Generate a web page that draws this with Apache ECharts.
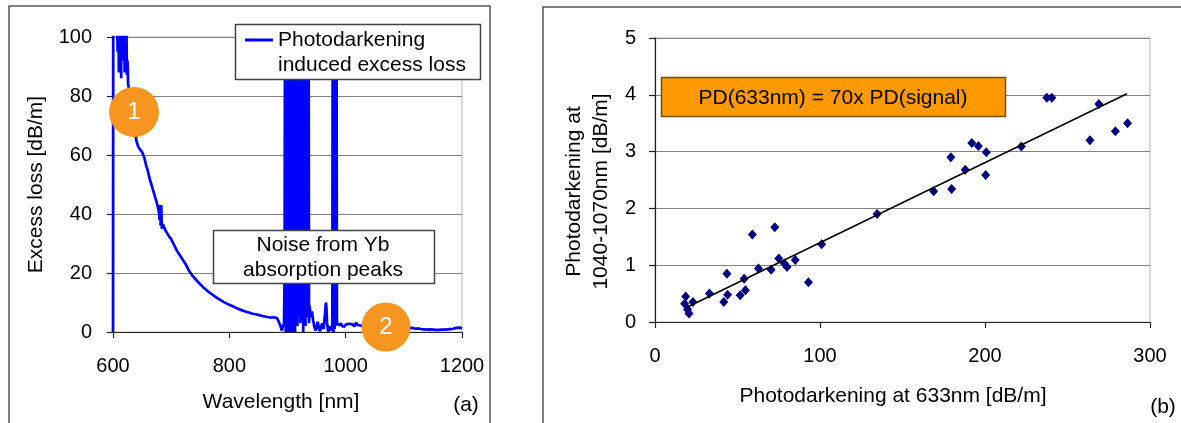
<!DOCTYPE html>
<html><head><meta charset="utf-8">
<script src="https://cdn.jsdelivr.net/npm/echarts@6/dist/echarts.min.js"></script>
<style>html,body{margin:0;padding:0;background:#fff}#c{width:1181px;height:423px}</style>
</head><body><div id="c"></div>
<script>
// ---- Panel (a): photodarkening induced excess loss spectrum ----
const wavelength = [600,600.5,605,608,609,610,611,612,613,614,615,616,617,618,619,620,621,622,623,624,625,626,627,628,630,634,638,
 640,643,646,650,654,657,660,663,666,669,672,675,677,679,680,681,682,683,684,686,688,690,693,696,
 700,705,710,715,720,725,730,735,740,745,750,755,760,765,770,775,780,785,790,795,800,805,810,815,820,825,830,835,840,845,850,855,860,865,870,873,876,879,882,885,888,890,892,894,
 895,896,897,898,899,900,901,902,903,904,905,906,907,908,909,910,911,912,913,914,915,916,917,918,919,920,921,922,923,
 924,925,926,927,928,929,930,931,932,933,934,935,936,937,938,939,940,942,944,946,948,950,952,954,956,958,960,962,964,966,967,968,970,972,974,976,977,
 978,979,980,981,982,983,984,985,986,988,990,992,994,996,998,1000,1003,1006,1009,1012,1015,1018,1020,1025,
 1030,1040,1050,1060,1070,1080,1090,1100,1110,1115,1120,1125,1130,1135,1140,1145,1150,1155,1160,1165,1170,1175,1180,1185,1190,1193,1196,1200];
const excessLoss = [0,150,130,95,120,88,130,100,140,86,125,92,135,97,120,88,110,90,104,87,92,84,83,82,79,74,69,
 65,63,62,61,59,56.5,54.5,52,50,48,46,44,42.5,40.5,38,43,36,43,35,36.5,35.5,34.5,33.5,32.5,
 31.5,29.5,27.5,26,24.5,23,21,19.5,18.3,17.2,16.2,15.2,14.3,13.5,12.8,12.1,11.4,10.8,10.2,9.7,9.2,8.8,8.3,7.9,7.5,7.1,6.8,6.5,6.2,6.0,5.8,5.5,5.3,5.1,4.9,5.4,5.0,4.4,4.7,3.5,2.0,0.5,0.2,3,
 20,150,0,150,2,150,0,150,5,150,0,150,3,150,0,150,6,150,0,150,8,150,2,150,10,150,12,3,13,
 150,4,150,0,150,6,150,2,150,8,150,5,150,3,9,8.5,5,7,4,2,0.5,1.5,3.5,1,0.3,2,3,1,5,10,8,3,0,2,0.5,0,2,
 150,0,150,1,150,2,150,3,2.5,3.5,2.2,3.0,2.0,2.6,1.8,2.5,2.0,2.8,2.2,2.6,1.9,3.2,2.4,2.2,
 2.0,1.8,1.6,1.5,1.4,1.3,1.2,1.2,1.3,1.4,1.1,1.2,1.0,0.9,0.8,0.9,0.8,0.7,0.7,0.8,0.8,0.9,1.0,1.1,1.4,1.0,1.5,1.2];

// ---- Panel (b): PD at 633 nm vs PD at 1040-1070 nm ----
const pd633 = [18,18.6,19.8,20.6,23,33,41.7,43.6,44,51.6,54,54.8,59,62.7,70.4,72.6,75,78.4,80,85,93,101,134.6,168.9,179.3,179.8,188,192,196,200.4,200.8,222,237.5,240.5,263.6,269,279,286.4];
const pdSignal = [0.32,0.45,0.22,0.15,0.35,0.50,0.35,0.85,0.48,0.47,0.76,0.56,1.54,0.94,0.92,1.67,1.12,1.03,0.97,1.09,0.70,1.37,1.90,2.30,2.90,2.34,2.68,3.15,3.10,2.59,2.99,3.09,3.95,3.95,3.20,3.84,3.36,3.50];
const trendX = [20, 286];
const trendY = [0.27, 4.02];

const FONT = "'Liberation Sans', Arial, sans-serif";
const lossData = wavelength.map((w, i) => [w, excessLoss[i]]);
const scatterData = pd633.map((x, i) => [x, pdSignal[i]]);
const trendData = trendX.map((x, i) => [x, trendY[i]]);
const plain = v => String(v);

const axisCommon = {
  axisLine: {show: true, onZero: false, lineStyle: {color: '#222', width: 1.2}},
  axisTick: {show: true, inside: false, length: 6, lineStyle: {color: '#222', width: 1.2}},
  axisLabel: {color: '#000', fontSize: 20, fontFamily: FONT, formatter: plain},
  nameTextStyle: {color: '#000', fontSize: 21, fontFamily: FONT},
  nameLocation: 'middle'
};

const chart = echarts.init(document.getElementById('c'), null, {renderer: 'canvas'});
chart.setOption({
  animation: false,
  backgroundColor: '#fff',
  grid: [
    {left: 113, top: 37, width: 349, height: 295, show: true, borderColor: '#b8b8b8', borderWidth: 1, backgroundColor: 'transparent'},
    {left: 655, top: 38, width: 495, height: 284, show: true, borderColor: '#b8b8b8', borderWidth: 1, backgroundColor: 'transparent'}
  ],
  xAxis: [
    Object.assign({}, axisCommon, {gridIndex: 0, type: 'value', min: 600, max: 1200, interval: 200,
      name: 'Wavelength [nm]', nameGap: 60,
      nameTextStyle: Object.assign({}, axisCommon.nameTextStyle, {padding: [0, 13, 0, 0]}),
      axisLabel: Object.assign({}, axisCommon.axisLabel, {margin: 24}),
      splitLine: {show: false}}),
    Object.assign({}, axisCommon, {gridIndex: 1, type: 'value', min: 0, max: 300, interval: 100,
      name: 'Photodarkening at 633nm [dB/m]', nameGap: 64,
      nameTextStyle: Object.assign({}, axisCommon.nameTextStyle, {padding: [0, 19, 0, 0]}),
      axisLabel: Object.assign({}, axisCommon.axisLabel, {margin: 24}),
      splitLine: {show: false}})
  ],
  yAxis: [
    Object.assign({}, axisCommon, {gridIndex: 0, type: 'value', min: 0, max: 100, interval: 20,
      name: 'Excess loss [dB/m]', nameGap: 66,
      axisLabel: Object.assign({}, axisCommon.axisLabel, {margin: 21}),
      splitLine: {show: true, lineStyle: {color: '#828282', width: 1}}}),
    Object.assign({}, axisCommon, {gridIndex: 1, type: 'value', min: 0, max: 5, interval: 1,
      name: 'Photodarkening at\n1040-1070nm [dB/m]', nameGap: 40,
      nameTextStyle: Object.assign({}, axisCommon.nameTextStyle, {lineHeight: 27, padding: [0, 23, 0, 0]}),
      axisLabel: Object.assign({}, axisCommon.axisLabel, {margin: 19}),
      splitLine: {show: true, lineStyle: {color: '#828282', width: 1}}})
  ],
  legend: {
    data: [{name: 'Photodarkening induced excess loss', icon: 'rect'}],
    formatter: () => 'Photodarkening',
    left: 245, top: 28, padding: 0, itemWidth: 28, itemHeight: 3, selectedMode: false, z: 30,
    itemStyle: {color: '#0000ff'},
    textStyle: {fontSize: 21, fontFamily: FONT, color: '#000', lineHeight: 24}
  },
  series: [
    {type: 'line', name: 'Photodarkening induced excess loss', xAxisIndex: 0, yAxisIndex: 0,
      data: lossData, symbol: 'none', clip: true,
      lineStyle: {color: '#0000ff', width: 2.7}, itemStyle: {color: '#0000ff'}},
    {type: 'scatter', name: 'PD', xAxisIndex: 1, yAxisIndex: 1, data: scatterData,
      symbol: 'diamond', symbolSize: [9, 10], itemStyle: {color: '#000080', opacity: 1}, z: 3},
    {type: 'line', name: 'Linear fit', xAxisIndex: 1, yAxisIndex: 1, data: trendData,
      symbol: 'none', lineStyle: {color: '#000', width: 1.6}, z: 4}
  ],
  graphic: [
    {type: 'rect', z: 1, shape: {x: 9, y: 6, width: 481, height: 440}, style: {fill: 'none', stroke: '#555', lineWidth: 1.5}, silent: true},
    {type: 'rect', z: 1, shape: {x: 543, y: 7, width: 660, height: 440}, style: {fill: 'none', stroke: '#555', lineWidth: 1.5}, silent: true},
    // legend frame + second line of legend text
    {type: 'rect', z: 20, shape: {x: 235.5, y: 24.5, width: 245, height: 55}, style: {fill: '#fff', stroke: '#444', lineWidth: 1.5}},
    {type: 'text', z: 31, x: 278, y: 65, style: {text: 'induced excess loss', font: '21px ' + FONT, fill: '#000', textVerticalAlign: 'middle'}},
    // noise annotation
    {type: 'rect', z: 20, shape: {x: 213.5, y: 230.5, width: 221, height: 53}, style: {fill: '#fff', stroke: '#444', lineWidth: 1.5}},
    {type: 'text', z: 21, x: 323, y: 245, style: {text: 'Noise from Yb', font: '21px ' + FONT, fill: '#000', textAlign: 'center', textVerticalAlign: 'middle'}},
    {type: 'text', z: 21, x: 323, y: 270, style: {text: 'absorption peaks', font: '21px ' + FONT, fill: '#000', textAlign: 'center', textVerticalAlign: 'middle'}},
    // numbered markers
    {type: 'circle', z: 22, shape: {cx: 134, cy: 112, r: 25}, style: {fill: '#f7961e'}},
    {type: 'text', z: 23, x: 134, y: 112, style: {text: '1', font: '24px ' + FONT, fill: '#fff', textAlign: 'center', textVerticalAlign: 'middle'}},
    {type: 'circle', z: 22, shape: {cx: 386, cy: 327, r: 24.5}, style: {fill: '#f7961e'}},
    {type: 'text', z: 23, x: 386, y: 327, style: {text: '2', font: '24px ' + FONT, fill: '#fff', textAlign: 'center', textVerticalAlign: 'middle'}},
    // panel labels
    {type: 'text', z: 21, x: 466, y: 405, style: {text: '(a)', font: '21px ' + FONT, fill: '#000', textAlign: 'center', textVerticalAlign: 'middle'}},
    {type: 'text', z: 21, x: 1163, y: 407, style: {text: '(b)', font: '21px ' + FONT, fill: '#000', textAlign: 'center', textVerticalAlign: 'middle'}},
    // fit annotation
    {type: 'rect', z: 20, shape: {x: 661.5, y: 77.5, width: 344, height: 39}, style: {fill: '#ff9900', stroke: '#6e5000', lineWidth: 1.5}},
    {type: 'text', z: 21, x: 833, y: 98, style: {text: 'PD(633nm) = 70x PD(signal)', font: '21px ' + FONT, fill: '#000', textAlign: 'center', textVerticalAlign: 'middle'}}
  ]
});
</script>
</body></html>
